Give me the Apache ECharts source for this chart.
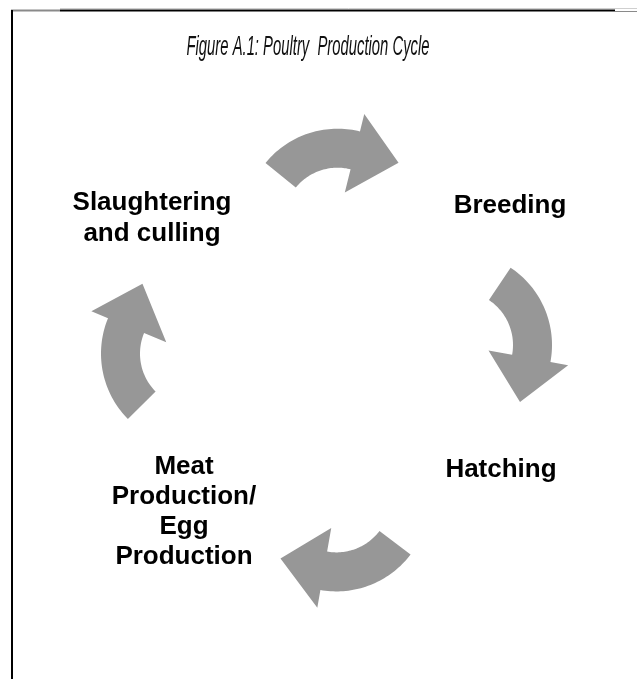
<!DOCTYPE html>
<html><head><meta charset="utf-8">
<script src="https://cdn.jsdelivr.net/npm/echarts@6/dist/echarts.min.js"></script>
<style>html,body{margin:0;padding:0;background:#fff}#c{width:637px;height:679px}</style>
</head><body><div id="c"></div>
<script>
// ---- content ----
const titleText = 'Figure A.1: Poultry  Production Cycle';
const stages = ['Breeding', 'Hatching', 'Meat\nProduction/\nEgg\nProduction', 'Slaughtering\nand culling'];
// cycle arrows: index of stage the arrow leaves and the stage it reaches
const arrowFrom = [3, 0, 1, 2];
const arrowTo = [0, 1, 2, 3];

// ---- layout (pixel space of the 637x679 canvas) ----
const labelPos = [[510, 206], [501, 470], [184, 512], [152, 218]];
const labelLineHeight = [30, 30, 30, 31];
// arc centre x, arc centre y, tail angle, head angle, tip turn (degrees, clockwise from +x)
const arrowLayout = [
  [337.6, 221.7, -140.8, -76.1, 2],
  [459, 345, -56.3, 10.5, 4],
  [336.4, 498.4, 37.1, 99.9, 6],
  [194, 353.6, 135.3, 202.4, -1]
];
const R_OUT = 93, R_IN = 54, WING_OUT = 111, WING_IN = 30, TIP = 45;
const ARROW_COLOR = '#979797';
const LABEL_FONT = 'bold 26px "Liberation Sans", Arial, sans-serif';

function renderArrow(params, api) {
  const i = api.value(0);
  const g = arrowLayout[i];
  const cx = g[0], cy = g[1];
  const a0 = g[2] * Math.PI / 180, a1 = g[3] * Math.PI / 180;
  const td = a1 + Math.PI / 2 + g[4] * Math.PI / 180;
  const P = (r, a) => api.coord([cx + r * Math.cos(a), cy + r * Math.sin(a)]);
  const pts = [];
  const N = 40;
  for (let k = 0; k <= N; k++) pts.push(P(R_OUT, a0 + (a1 - a0) * k / N));
  pts.push(P(WING_OUT, a1));
  const rm = (R_OUT + R_IN) / 2;
  const bx = cx + rm * Math.cos(a1), by = cy + rm * Math.sin(a1);
  pts.push(api.coord([bx + TIP * Math.cos(td), by + TIP * Math.sin(td)]));
  pts.push(P(WING_IN, a1));
  for (let k = N; k >= 0; k--) pts.push(P(R_IN, a0 + (a1 - a0) * k / N));
  return { type: 'polygon', shape: { points: pts }, style: { fill: ARROW_COLOR } };
}

function renderLabel(params, api) {
  const i = params.dataIndex;
  const p = api.coord([api.value(0), api.value(1)]);
  return {
    type: 'text', x: p[0], y: p[1],
    style: {
      text: stages[i], font: LABEL_FONT, fill: '#000000',
      align: 'center', verticalAlign: 'middle', lineHeight: labelLineHeight[i]
    }
  };
}

// title width fitting (condensed italic look)
const TITLE_FONT = 'italic 27px "Liberation Sans Narrow", "Liberation Sans", Arial, sans-serif';
const TITLE_WIDTH = 243;
const ctx = document.createElement('canvas').getContext('2d');
ctx.font = TITLE_FONT;
const titleScale = TITLE_WIDTH / ctx.measureText(titleText).width;

const chart = echarts.init(document.getElementById('c'), null, { renderer: 'canvas' });
chart.setOption({
  animation: false,
  backgroundColor: '#ffffff',
  grid: { left: 0, right: 0, top: 0, bottom: 0 },
  xAxis: { type: 'value', min: 0, max: 637, show: false },
  yAxis: { type: 'value', min: 0, max: 679, inverse: true, show: false },
  series: [
    {
      type: 'custom',
      renderItem: renderArrow,
      data: arrowFrom.map((f, i) => [i, f, arrowTo[i]]),
      silent: true
    },
    {
      type: 'custom',
      renderItem: renderLabel,
      data: labelPos,
      silent: true
    }
  ],
  graphic: [
    { type: 'text', x: 308, y: 47, scaleX: titleScale,
      style: { text: titleText, font: TITLE_FONT, fill: '#111', textAlign: 'center', textVerticalAlign: 'middle' } },
    { type: 'line', shape: { x1: 60, y1: 8.5, x2: 637, y2: 8.5 }, style: { stroke: '#cfcfcf', lineWidth: 1 } },
    { type: 'line', shape: { x1: 11, y1: 10.5, x2: 60, y2: 10.5 }, style: { stroke: '#8a8a8a', lineWidth: 2 } },
    { type: 'line', shape: { x1: 60, y1: 10.5, x2: 615, y2: 10.5 }, style: { stroke: '#000', lineWidth: 2 } },
    { type: 'line', shape: { x1: 615, y1: 11.5, x2: 637, y2: 11.5 }, style: { stroke: '#8a8a8a', lineWidth: 1 } },
    { type: 'line', shape: { x1: 12, y1: 10, x2: 12, y2: 679 }, style: { stroke: '#000', lineWidth: 2 } }
  ]
});
</script>
</body></html>
